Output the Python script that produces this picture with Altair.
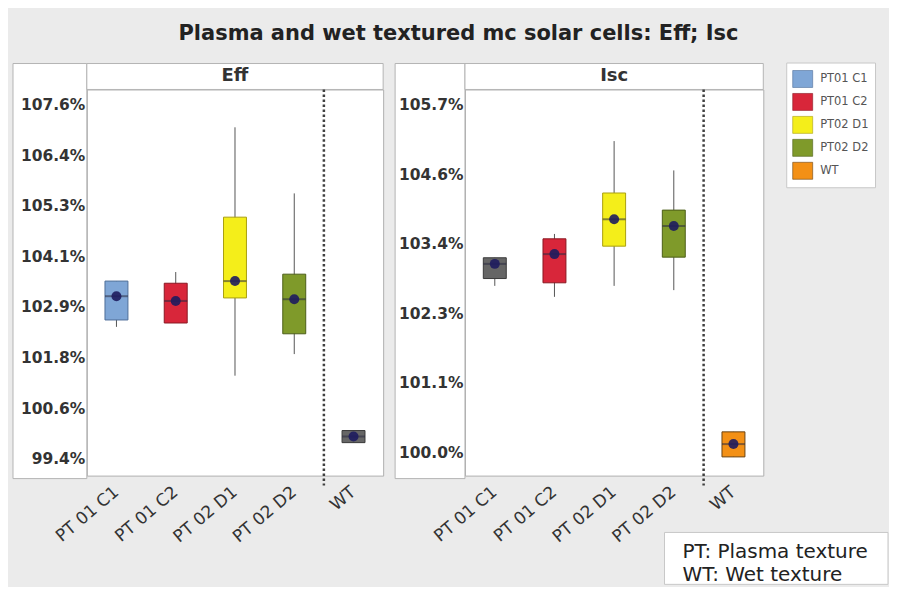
import json
import altair as alt
import pandas as pd

# ---------------- data ----------------
title_text = "Plasma and wet textured mc solar cells: Eff; Isc"
categories = ["PT 01 C1", "PT 01 C2", "PT 02 D1", "PT 02 D2", "WT"]
legend_names = ["PT01 C1", "PT01 C2", "PT02 D1", "PT02 D2", "WT"]
legend_colors = ["#7fa6d6", "#d8263a", "#f4ee1a", "#7f9a2a", "#f39015"]
grey_key = "grey"
grey_color = "#666666"
stroke_colors = ["#4d6d98", "#8a1822", "#aaa010", "#4c5e18", "#6a4210", "#3a3a3a"]
panel_titles = ["Eff", "Isc"]
notes = ["PT: Plasma texture", "WT: Wet texture"]

# fill key per box (some boxes appear grey in the source picture)
eff_fill = ["PT01 C1", "PT01 C2", "PT02 D1", "PT02 D2", "grey"]
isc_fill = ["grey", "PT01 C2", "PT02 D1", "PT02 D2", "WT"]

# Eff (%)
eff_low = [102.45, 102.54, 101.32, 101.82, 99.77]
eff_q1 = [102.61, 102.54, 103.12, 102.29, 99.77]
eff_med = [103.16, 103.05, 103.51, 103.09, 99.91]
eff_q3 = [103.51, 103.46, 104.99, 103.67, 100.05]
eff_high = [103.51, 103.72, 107.07, 105.54, 100.05]

# Isc (%)
isc_low = [102.73, 102.55, 102.73, 102.66, 99.93]
isc_q1 = [102.85, 102.78, 103.38, 103.20, 99.93]
isc_med = [103.09, 103.25, 103.82, 103.71, 100.14]
isc_q3 = [103.19, 103.50, 104.25, 103.97, 100.34]
isc_high = [103.19, 103.58, 105.10, 104.62, 100.34]

eff_tick_labels = ["99.4%", "100.6%", "101.8%", "102.9%", "104.1%", "105.3%", "106.4%", "107.6%"]
eff_tick_first, eff_tick_last = 99.4, 107.6
eff_domain = [99.007, 107.946]

isc_tick_labels = ["100.0%", "101.1%", "102.3%", "103.4%", "104.6%", "105.7%"]
isc_tick_first, isc_tick_last = 100.0, 105.7
isc_domain = [99.624, 105.945]

# ---------------- layout constants ----------------
H = 387
W1, W2 = 297, 299
AX1, AX2 = 74, 70
HEAD = 26
FONT = "DejaVu Sans"

one = pd.DataFrame({"k": [0]})


def box_frame(fill_keys, low, q1, med, q3, high):
    return pd.DataFrame({
        "cat": categories, "fk": fill_keys, "low": low, "q1": q1,
        "med": med, "q3": q3, "high": high,
    })


def panel(name, df, W, axw, domain, labels, first, last, extra=None):
    n = len(labels)
    step = (last - first) / (n - 1)
    positions = [first + i * step for i in range(n)]
    label_expr = f"{json.dumps(labels)}[round((datum.value - {first}) / {step})]"

    xenc = alt.X(
        "cat:N",
        sort=categories,
        scale=alt.Scale(domain=categories, paddingInner=0, paddingOuter=0),
        axis=alt.Axis(title=None, labelAngle=-40, labelFont=FONT, labelFontSize=17,
                      labelColor="#333333", ticks=False, domain=False, labelPadding=14,
                      zindex=1),
    )
    yscale = alt.Scale(domain=domain, nice=False, zero=False)
    yaxis = alt.Axis(title=None, values=positions, labelExpr=label_expr, labelFont=FONT,
                     labelFontWeight="bold", labelFontSize=15.5, labelColor="#333333",
                     ticks=False, domain=False, grid=False, labelPadding=2, zindex=1)

    column = alt.Chart(one).mark_rect(fill="white", stroke="#b4b4b4", strokeWidth=1).encode(
        x=alt.value(-axw), x2=alt.value(0), y=alt.value(-HEAD), y2=alt.value(H + 3))
    header = alt.Chart(one).mark_rect(fill="white", stroke="#b4b4b4", strokeWidth=1).encode(
        x=alt.value(0), x2=alt.value(W), y=alt.value(-HEAD), y2=alt.value(0))
    header_txt = alt.Chart(one).mark_text(font=FONT, fontWeight="bold", fontSize=18,
                                          color="#333333", baseline="middle").encode(
        x=alt.value(W / 2), y=alt.value(-HEAD / 2), text=alt.value(name))

    base = alt.Chart(df)
    divider = base.transform_filter(alt.datum.cat == "WT").mark_rule(
        color="#404040", strokeDash=[2.5, 2.5], strokeWidth=2.5).encode(
        x=alt.X("cat:N", bandPosition=0), y=alt.value(0), y2=alt.value(H + 10))
    whisk = base.mark_rule(color="#555555", strokeWidth=1).encode(
        x=xenc, y=alt.Y("low:Q", scale=yscale, axis=yaxis), y2="high:Q")
    box = base.mark_bar(size=23, strokeWidth=1).encode(
        x="cat:N", y="q1:Q", y2="q3:Q",
        fill=alt.Fill("fk:N", scale=alt.Scale(domain=legend_names + [grey_key],
                                              range=legend_colors + [grey_color]),
                      legend=alt.Legend(
                          title=None, orient="none", legendX=701, legendY=-27,
                          values=legend_names,
                          symbolType="M-1,-0.85H1V0.85H-1Z", symbolSize=400,
                          symbolStrokeColor="#888888", symbolStrokeWidth=0.6,
                          labelFont=FONT, labelFontSize=11.5, labelColor="#555555",
                          labelOffset=7, rowPadding=2, padding=6,
                          fillColor="white", strokeColor="#c8c8c8")),
        stroke=alt.Stroke("fk:N", scale=alt.Scale(domain=legend_names + [grey_key],
                                                  range=stroke_colors), legend=None),
    )
    medline = base.mark_tick(size=23, thickness=2, color="#2a2a40", opacity=0.55).encode(
        x="cat:N", y="med:Q")
    dot = base.mark_circle(size=100, color="#1e1c5e", opacity=0.9).encode(
        x="cat:N", y="med:Q")

    layers = [column, header, header_txt, divider, whisk, box, medline, dot]
    if extra:
        layers += extra
    return alt.layer(*layers).properties(width=W, height=H)


eff_df = box_frame(eff_fill, eff_low, eff_q1, eff_med, eff_q3, eff_high)
isc_df = box_frame(isc_fill, isc_low, isc_q1, isc_med, isc_q3, isc_high)

# note box at bottom right (positions relative to the Isc plot area)
note_box = alt.Chart(one).mark_rect(fill="white", stroke="#c8c8c8").encode(
    x=alt.value(200), x2=alt.value(424), y=alt.value(444), y2=alt.value(496))
note_layers = [
    alt.Chart(one).mark_text(font=FONT, fontSize=20, color="#222222",
                             align="left", baseline="alphabetic").encode(
        x=alt.value(218), y=alt.value(yy), text=alt.value(t))
    for t, yy in zip(notes, [470, 493])
]

left = panel(panel_titles[0], eff_df, W1, AX1, eff_domain, eff_tick_labels,
             eff_tick_first, eff_tick_last)
right = panel(panel_titles[1], isc_df, W2, AX2, isc_domain, isc_tick_labels,
              isc_tick_first, isc_tick_last, extra=[note_box] + note_layers)

chart = alt.hconcat(left, right, spacing=10).resolve_scale(y="independent").properties(
    title=alt.Title(title_text, font=FONT, fontSize=21, fontWeight="bold", color="#222222",
                    anchor="middle", offset=18.5, dx=8),
    padding={"left": 4, "top": 14, "right": 0, "bottom": 0},
).configure(background="#ebebeb").configure_view(fill="white", stroke="#b0b0b0")

chart.save("out.html", embed_options={"renderer": "svg", "actions": False})
